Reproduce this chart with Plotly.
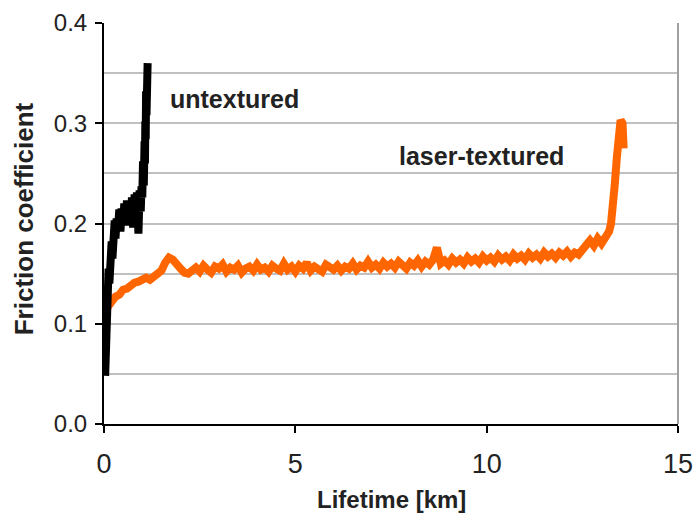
import plotly.graph_objects as go

# Untextured (black)
untex_x = [0.03, 0.04, 0.05, 0.06, 0.07, 0.08, 0.10, 0.12, 0.14, 0.16, 0.18, 0.20, 0.22, 0.24, 0.26,
           0.28, 0.30, 0.33, 0.36, 0.40, 0.43, 0.46, 0.50, 0.53, 0.56, 0.60, 0.63, 0.66, 0.70, 0.73,
           0.76, 0.80, 0.83, 0.86, 0.90, 0.93, 0.96, 0.98, 1.00, 1.02, 1.04, 1.06, 1.07, 1.08,
           1.09, 1.10, 1.11, 1.12, 1.13, 1.14]
untex_y = [0.048, 0.065, 0.115, 0.140, 0.125, 0.145, 0.130, 0.155, 0.140, 0.168, 0.155, 0.182, 0.165, 0.195, 0.175,
           0.203, 0.185, 0.205, 0.192, 0.214, 0.192, 0.215, 0.198, 0.220, 0.198, 0.223, 0.200, 0.222, 0.203, 0.226,
           0.196, 0.229, 0.203, 0.231, 0.190, 0.233, 0.212, 0.237, 0.226, 0.262, 0.238, 0.282, 0.260, 0.302,
           0.284, 0.332, 0.308, 0.356, 0.342, 0.360]

# Laser-textured (orange): run-in segment
tex_start_x = [0.0, 0.05, 0.1, 0.2, 0.3, 0.4, 0.5, 0.6, 0.7, 0.8, 0.9, 1.0, 1.1, 1.2, 1.3, 1.4,
               1.5, 1.6, 1.7, 1.8, 1.9, 2.0, 2.1, 2.2]
tex_start_y = [0.119, 0.124, 0.117, 0.123, 0.127, 0.129, 0.134, 0.135, 0.139, 0.141, 0.142, 0.143,
               0.146, 0.144, 0.147, 0.148, 0.153, 0.161, 0.166, 0.164, 0.158, 0.155, 0.151, 0.150]

# steady-state segment
tex_mid_x = [2.3, 2.4, 2.5, 2.6, 2.7, 2.8, 2.9, 3.0, 3.1, 3.2, 3.3, 3.4, 3.5, 3.6, 3.7, 3.8, 3.9,
             4.0, 4.1, 4.2, 4.3, 4.4, 4.5, 4.6, 4.7, 4.8, 4.9, 5.0, 5.1, 5.2, 5.3, 5.4, 5.5, 5.6,
             5.7, 5.8, 5.9, 6.0, 6.1, 6.2, 6.3, 6.4, 6.5, 6.6, 6.7, 6.8, 6.9, 7.0, 7.1, 7.2, 7.3,
             7.4, 7.5, 7.6, 7.7, 7.8, 7.9, 8.0, 8.1, 8.2, 8.3, 8.4, 8.5, 8.6, 8.7, 8.8, 8.9, 9.0,
             9.1, 9.2, 9.3, 9.4, 9.5, 9.6, 9.7, 9.8, 9.9, 10.0, 10.1, 10.2, 10.3, 10.4, 10.5, 10.6,
             10.7, 10.8, 10.9, 11.0, 11.1, 11.2, 11.3, 11.4, 11.5, 11.6, 11.7, 11.8, 11.9, 12.0,
             12.1, 12.2, 12.3, 12.4, 12.5, 12.6]
tex_mid_y = [0.153, 0.156, 0.152, 0.158, 0.154, 0.151, 0.157, 0.155, 0.159, 0.152, 0.156, 0.154,
             0.158, 0.151, 0.155, 0.157, 0.153, 0.159, 0.154, 0.156, 0.152, 0.158, 0.155, 0.153,
             0.160, 0.154, 0.157, 0.152, 0.158, 0.155, 0.161, 0.153, 0.157, 0.155, 0.152, 0.159,
             0.156, 0.154, 0.158, 0.153, 0.157, 0.155, 0.160, 0.154, 0.158, 0.156, 0.162, 0.156,
             0.159, 0.155, 0.161, 0.157, 0.160, 0.156, 0.162, 0.158, 0.155, 0.161, 0.158, 0.163,
             0.157, 0.162, 0.159, 0.164, 0.176, 0.160, 0.163, 0.159, 0.165, 0.161, 0.164, 0.160,
             0.166, 0.162, 0.165, 0.161, 0.167, 0.163, 0.166, 0.162, 0.168, 0.164, 0.167, 0.163,
             0.169, 0.165, 0.168, 0.164, 0.170, 0.166, 0.169, 0.165, 0.171, 0.167, 0.170, 0.166,
             0.171, 0.168, 0.172, 0.167, 0.171, 0.169, 0.174, 0.178]

# failure segment
tex_end_x = [12.7, 12.8, 12.9, 13.0, 13.1, 13.2, 13.25, 13.3, 13.35, 13.4, 13.45, 13.5, 13.55, 13.58]
tex_end_y = [0.183, 0.178, 0.185, 0.180, 0.187, 0.192, 0.200, 0.215, 0.240, 0.265, 0.290, 0.303,
             0.300, 0.275]

x_ticks = [0, 5, 10, 15]
y_ticks = [0.0, 0.1, 0.2, 0.3, 0.4]
y_tick_text = ["0.0", "0.1", "0.2", "0.3", "0.4"]

FONT = "Liberation Sans, Arial, sans-serif"

tex_x = tex_start_x + tex_mid_x + tex_end_x
tex_y = tex_start_y + tex_mid_y + tex_end_y

fig = go.Figure()
fig.add_trace(go.Scatter(x=tex_x, y=tex_y, mode="lines",
                         line=dict(color="#FF6600", width=8), showlegend=False))
fig.add_trace(go.Scatter(x=untex_x, y=untex_y, mode="lines",
                         line=dict(color="#000000", width=8), showlegend=False))

fig.add_annotation(x=1.67, y=0.324, text="<b>untextured</b>", showarrow=False,
                   xanchor="left", yanchor="middle", font=dict(family=FONT, size=25, color="#222"))
fig.add_annotation(x=7.66, y=0.267, text="<b>laser-textured</b>", showarrow=False,
                   xanchor="left", yanchor="middle", font=dict(family=FONT, size=25, color="#222"))

# axis titles
fig.add_annotation(xref="paper", yref="paper", x=0.5, y=-0.188, text="<b>Lifetime [km]</b>",
                   showarrow=False, xanchor="center", yanchor="middle",
                   font=dict(family=FONT, size=24, color="#222"))
fig.add_annotation(xref="paper", yref="paper", x=-0.139, y=0.511, text="<b>Friction coefficient</b>",
                   showarrow=False, xanchor="center", yanchor="middle", textangle=-90,
                   font=dict(family=FONT, size=26, color="#222"))

# right border of plot area (grey)
fig.add_shape(type="line", xref="paper", yref="paper", x0=1, x1=1, y0=0, y1=1,
              line=dict(color="#a0a0a0", width=2))

fig.update_layout(
    width=694, height=516,
    margin=dict(l=104, r=16, t=23, b=92),
    paper_bgcolor="white", plot_bgcolor="white",
    font=dict(family=FONT, size=22, color="#222"),
    xaxis=dict(range=[0, 15], tickvals=x_ticks, ticks="outside", ticklen=7, tickwidth=2,
               tickcolor="black", showline=True, linecolor="black", linewidth=2,
               showgrid=False, zeroline=False, ticklabelstandoff=8, automargin=False,
               tickfont=dict(family=FONT, size=27, color="#222")),
    yaxis=dict(range=[0, 0.4], tickvals=y_ticks, ticktext=y_tick_text, ticks="outside",
               ticklen=7, tickwidth=2, tickcolor="black", showline=True, linecolor="black",
               linewidth=2, showgrid=True, gridcolor="#c0c0c0", gridwidth=2, zeroline=False,
               ticklabelstandoff=3, automargin=False,
               tickfont=dict(family=FONT, size=24, color="#222"),
               minor=dict(dtick=0.05, showgrid=True, gridcolor="#c0c0c0", gridwidth=2, ticks="")),
)

fig.write_html("out.html", config={"displayModeBar": False},
               post_script="document.body.style.margin='0';document.body.style.overflow='hidden';")
